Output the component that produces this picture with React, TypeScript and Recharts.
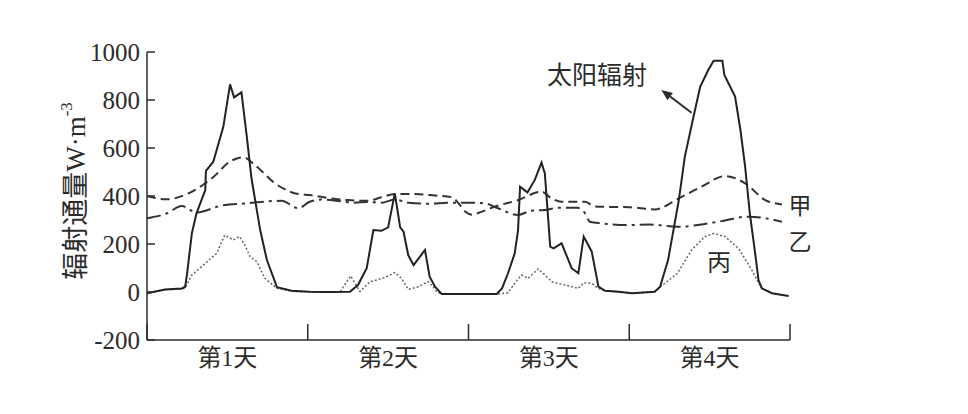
import { LineChart, Line, XAxis, YAxis, ReferenceDot, ReferenceLine } from "recharts";

// hours since start of day 1, radiation flux W·m-3
const solarHours = [0, 2.7, 5.2, 5.7, 6.0, 6.7, 7.4, 8.7, 8.8, 9.9, 11.4, 12.4, 13.0, 14.1, 14.9, 15.6, 16.9, 17.9, 19.4, 21.6, 24.3, 27, 30.3, 31.5, 32.8, 33.8, 35.0, 36.0, 37.0, 37.8, 38.3, 39.0, 39.8, 41.5, 42.2, 43.0, 44.0, 48.2, 52.2, 53.0, 53.9, 54.9, 55.4, 55.7, 56.8, 57.9, 58.9, 59.4, 60.2, 60.7, 61.9, 63.4, 64.4, 65.2, 66.4, 67.4, 68.4, 70.4, 72.4, 75.8, 76.6, 77.8, 79.4, 80.3, 81.6, 82.6, 83.8, 84.6, 85.9, 86.2, 87.8, 88.6, 89.3, 90.0, 90.8, 91.3, 91.8, 93.3, 95.8];
const solarValues = [-5, 10, 15, 22, 80, 245, 329, 425, 505, 543, 689, 865, 811, 832, 647, 474, 258, 133, 20, 5, 1, 0, 1, 29, 99, 258, 255, 269, 411, 269, 251, 154, 112, 175, 64, 22, -8, -8, -8, 15, 78, 161, 258, 439, 415, 467, 539, 494, 189, 182, 203, 99, 78, 231, 168, 22, 5, 1, -5, 1, 22, 133, 383, 564, 731, 856, 925, 964, 964, 904, 814, 675, 522, 328, 161, 50, 15, -5, -17];

const jiaHours = [0, 2.9, 6.2, 9.7, 12.6, 14.4, 16.1, 19.1, 22.6, 24.3, 27, 30, 33, 35, 37, 40, 43, 45.5, 46.5, 47.5, 48.5, 50, 52, 55.4, 58.9, 60.4, 61.9, 65.4, 66.9, 72.1, 75.8, 79.4, 82.8, 86.3, 89.3, 92.3, 94.8];
const jiaValues = [400, 386, 411, 474, 547, 561, 529, 453, 408, 404, 392, 383, 380, 395, 408, 408, 402, 395, 370, 335, 322, 335, 356, 383, 418, 390, 376, 376, 356, 353, 344, 390, 439, 483, 453, 383, 365];

const yiHours = [0, 3, 5.2, 7.4, 11.1, 14.6, 20.1, 22.6, 24.3, 26, 29, 31, 33, 35, 37, 39, 42, 45, 47.8, 50.5, 52.4, 55.4, 57.4, 59.4, 61.4, 64.2, 65.4, 66.1, 67.9, 72.1, 75, 79.2, 85.3, 89.7, 94.8];
const yiValues = [307, 328, 358, 331, 360, 369, 380, 349, 376, 385, 378, 372, 375, 372, 385, 372, 368, 372, 372, 369, 349, 321, 339, 342, 351, 351, 328, 293, 286, 279, 281, 272, 293, 314, 293];

const bingHours = [0, 2.7, 5.2, 5.7, 6.7, 8.7, 10.4, 11.6, 12.9, 13.8, 14.6, 15.4, 16.4, 17.6, 19.4, 21.6, 24.3, 28.8, 30.4, 31.8, 33.3, 34.3, 35.8, 37.0, 38.0, 39.0, 40.5, 42.0, 42.7, 43.3, 44, 48.2, 52.4, 53.9, 54.9, 55.9, 56.9, 58.4, 59.4, 60.4, 62.4, 64.4, 65.2, 66.4, 67.4, 68.4, 70.4, 72.4, 75.8, 76.6, 79.2, 81.3, 83.3, 84.6, 86.3, 88.3, 90.3, 91.6, 92.2, 93.3];
const bingValues = [-5, 10, 12, 18, 71, 119, 161, 237, 217, 231, 196, 147, 126, 57, 15, 3, 0, 0, 67, 2, 43, 50, 64, 81, 57, 11, 22, 43, 22, 0, -8, -8, -8, -3, 36, 71, 57, 96, 71, 43, 29, 15, 39, 36, 15, 5, 1, -5, 1, 20, 78, 175, 231, 244, 231, 182, 92, 22, 10, -5];

const dayBounds = [0, 24, 48, 72, 96];
const dayCenters = [12, 36, 60, 84];
const dayLabels = ["第1天", "第2天", "第3天", "第4天"];
const yTicks = [-200, 0, 200, 400, 600, 800, 1000];

const xTicks = [...dayBounds, ...dayCenters].sort((a, b) => a - b);
const toPoints = (hours: number[], values: number[]) => hours.map((t, i) => ({ t, v: values[i] }));

const FONT = "'Liberation Serif', 'Noto Sans CJK SC', serif";
const INK = "#2b2b2b";

function DayTick({ x, y, payload }: any) {
  const v = payload.value;
  if (dayBounds.includes(v)) {
    return <line x1={x} x2={x} y1={y} y2={y - 16} stroke={INK} strokeWidth={1.5} />;
  }
  return (
    <text x={x} y={y + 18} textAnchor="middle" dominantBaseline="central" fontSize={24} fill={INK} fontFamily={FONT}>
      {dayLabels[dayCenters.indexOf(v)]}
    </text>
  );
}

function ValueTick({ x, y, payload }: any) {
  return (
    <g>
      <line x1={x} x2={x + 8} y1={y} y2={y} stroke={INK} strokeWidth={1.5} />
      <text x={x - 7} y={y} textAnchor="end" dominantBaseline="central" fontSize={25} fill={INK} fontFamily={FONT}>
        {payload.value}
      </text>
    </g>
  );
}

function YLabel({ viewBox }: any) {
  const cx = viewBox.x + 29;
  const cy = viewBox.y + viewBox.height / 2 - 5;
  return (
    <text x={cx} y={cy} transform={`rotate(-90 ${cx} ${cy})`} textAnchor="middle" dominantBaseline="central" fontSize={27} fill={INK} fontFamily={FONT}>
      辐射通量W·m<tspan dy={-10} fontSize={17}>-3</tspan>
    </text>
  );
}

function Arrow({ x1, y1, x2, y2 }: any) {
  const a = Math.atan2(y2 - y1, x2 - x1);
  const len = 11;
  const w = 4.5;
  const bx = x2 - len * Math.cos(a);
  const by = y2 - len * Math.sin(a);
  const px = -Math.sin(a) * w;
  const py = Math.cos(a) * w;
  return (
    <g>
      <line x1={x1} y1={y1} x2={bx} y2={by} stroke={INK} strokeWidth={2} />
      <polygon points={`${x2},${y2} ${bx + px},${by + py} ${bx - px},${by - py}`} fill={INK} />
    </g>
  );
}

const textLabel = (value: string, size: number) => ({
  value,
  position: "center" as const,
  fontSize: size,
  fill: INK,
  fontFamily: FONT,
});

export default function App() {
  return (
    <div style={{ position: "absolute", left: 0, top: 0, background: "#fff" }}>
      <LineChart width={968} height={414} margin={{ top: 52, right: 178, bottom: 24, left: 47 }}>
        <XAxis
          type="number"
          dataKey="t"
          domain={[0, 96]}
          ticks={xTicks}
          interval={0}
          height={50}
          tickSize={0}
          tickMargin={0}
          tickLine={false}
          tick={<DayTick />}
          axisLine={{ stroke: INK, strokeWidth: 1.5 }}
        />
        <YAxis
          type="number"
          domain={[-200, 1000]}
          ticks={yTicks}
          interval={0}
          width={100}
          tickSize={0}
          tickMargin={0}
          tickLine={false}
          tick={<ValueTick />}
          axisLine={{ stroke: INK, strokeWidth: 1.5 }}
          label={{ content: <YLabel /> }}
        />
        <Line data={toPoints(jiaHours, jiaValues)} dataKey="v" type="monotone" stroke="#333" strokeWidth={2} strokeDasharray="9 5" dot={false} isAnimationActive={false} />
        <Line data={toPoints(yiHours, yiValues)} dataKey="v" type="monotone" stroke="#333" strokeWidth={2} strokeDasharray="14 5 3 5" dot={false} isAnimationActive={false} />
        <Line data={toPoints(bingHours, bingValues)} dataKey="v" type="linear" stroke="#666" strokeWidth={1.5} strokeDasharray="2 2" dot={false} isAnimationActive={false} />
        <Line data={toPoints(solarHours, solarValues)} dataKey="v" type="linear" stroke="#222" strokeWidth={2} dot={false} isAnimationActive={false} />
        <ReferenceLine segment={[{ x: 81.3, y: 747 }, { x: 76.8, y: 842 }]} shape={<Arrow />} ifOverflow="visible" />
        <ReferenceDot x={67.2} y={904} r={0} ifOverflow="visible" label={textLabel("太阳辐射", 25)} />
        <ReferenceDot x={97.5} y={358} r={0} ifOverflow="visible" label={textLabel("甲", 23)} />
        <ReferenceDot x={97.5} y={208} r={0} ifOverflow="visible" label={textLabel("乙", 23)} />
        <ReferenceDot x={85.4} y={125} r={0} ifOverflow="visible" label={textLabel("丙", 24)} />
      </LineChart>
    </div>
  );
}
